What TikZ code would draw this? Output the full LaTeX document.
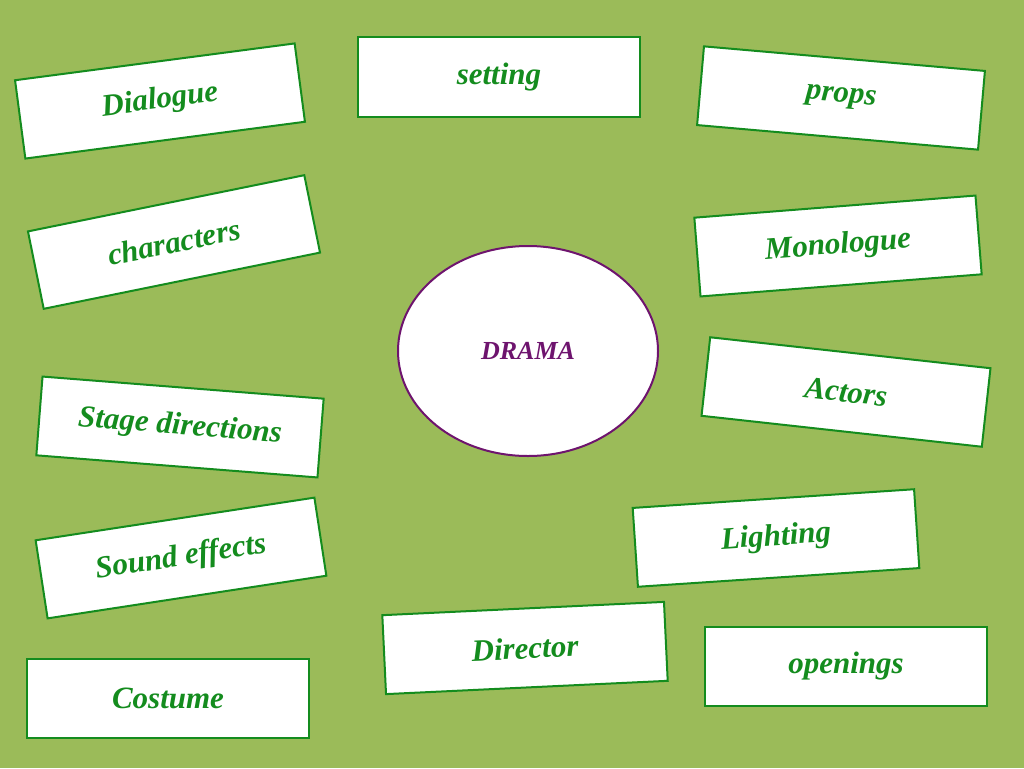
\documentclass[tikz,border=0pt]{standalone}
\usepackage{fontspec}
\setmainfont{Liberation Serif}
\usetikzlibrary{shapes.geometric}
\definecolor{bg}{RGB}{155,187,89}
\definecolor{gr}{RGB}{20,140,30}
\definecolor{pu}{RGB}{110,20,110}
\begin{document}
\begin{tikzpicture}[x=1pt,y=-1pt,
  box/.style={draw=gr,line width=2pt,fill=white,minimum width=282pt,minimum height=79pt,inner sep=0pt,
     text=gr,font=\fontsize{31}{33}\selectfont\itshape\bfseries}]
\fill[bg] (0,0) rectangle (1024,768);
\useasboundingbox (0,0) rectangle (1024,768);
\node[box,rotate=7.5] (dialogue) at (160,101) {Dialogue};
\node[box] (setting) at (499,77) {setting};
\node[box,rotate=-5] (props) at (841,98) {props};
\node[box,rotate=11.5] (characters) at (174,242) {characters};
\node[box,rotate=4.5] (monologue) at (838,246) {Monologue};
\node[ellipse,draw=pu,line width=2pt,fill=white,minimum width=260pt,minimum height=210pt,text=pu,
  font=\fontsize{26}{28}\selectfont\itshape\bfseries] (drama) at (528,351) {DRAMA};
\node[box,rotate=-6.3] (actors) at (846,392) {Actors};
\node[box,rotate=-4.5] (stage) at (180,427) {Stage directions};
\node[box,rotate=3.8] (lighting) at (776,538) {Lighting};
\node[box,rotate=8.7] (sound) at (181,558) {Sound effects};
\node[box,rotate=2.7] (director) at (525,648) {Director};
\node[box] (openings) at (846,666) {openings};
\node[box] (costume) at (168,698) {Costume};
\end{tikzpicture}
\end{document}
